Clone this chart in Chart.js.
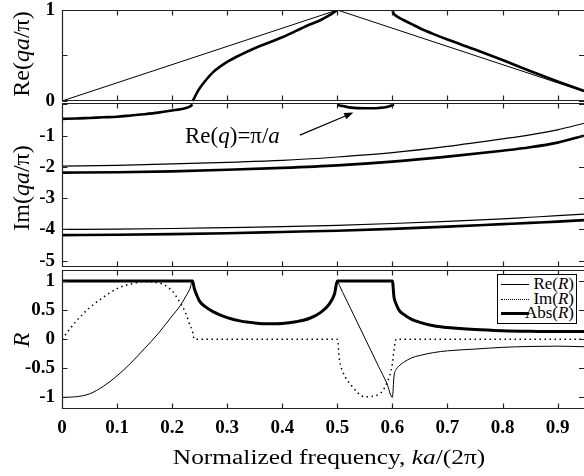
<!DOCTYPE html>
<html>
<head>
<meta charset="utf-8">
<title>Reflection and complex Bloch wavevector</title>
<script src="https://cdn.jsdelivr.net/npm/chart.js@4.4.1/dist/chart.umd.min.js"></script>
<style>
  body { margin: 0; background: #fff; }
  #wrap { position: relative; width: 584px; height: 476px; overflow: hidden;
          font-family: "Liberation Serif", "Times New Roman", serif; color: #000; }
  #chart { position: absolute; left: 0; top: 0; }
  .ytitle { position: absolute; white-space: nowrap; line-height: 1; font-size: 24px;
            transform: translate(-50%, -50%) rotate(-90deg); }
  #xtitle { position: absolute; left: 329px; top: 447px; white-space: nowrap; line-height: 1;
            font-size: 20px; transform: translateX(-50%) scaleX(1.27); }
  #note { position: absolute; left: 185px; top: 124px; white-space: nowrap; line-height: 1; font-size: 23px; }
  #legend { position: absolute; left: 497px; top: 274px; width: 80px; height: 50px; box-sizing: border-box;
            border: 1px solid #000; background: #fff; font-size: 17px; padding-top: 2px; }
  #legend .row { position: relative; height: 14.7px; line-height: 14.7px; text-align: right; padding-right: 2px; }
  #legend .s { position: absolute; left: 3px; top: 7px; width: 28px; border-top: 1px solid #000; }
  #legend .s.dot { border-top: 1.5px dotted #000; }
  #legend .s.bold { border-top: 3px solid #000; top: 6px; }
</style>
</head>
<body>
<div id="wrap">
  <canvas id="chart" width="584" height="476"></canvas>
  <div class="ytitle" style="left:21px;top:54px">Re(<i>qa</i>/π)</div>
  <div class="ytitle" style="left:21px;top:188px">Im(<i>qa</i>/π)</div>
  <div class="ytitle" style="left:21px;top:340px"><i>R</i></div>
  <div id="xtitle">Normalized frequency, <i>ka</i>/(2π)</div>
  <div id="note">Re(<i>q</i>)=π/<i>a</i></div>
  <div id="legend">
    <div class="row"><span class="s"></span>Re(<i>R</i>)</div>
    <div class="row"><span class="s dot"></span>Im(<i>R</i>)</div>
    <div class="row"><span class="s bold"></span>Abs(<i>R</i>)</div>
  </div>
</div>
<script>
// frequency samples ka/(2pi) used by the band / reflection curves
const freq = [0, 0.025, 0.05, 0.075, 0.1, 0.125, 0.15, 0.175, 0.2, 0.215, 0.225, 0.232, 0.237,
  0.24, 0.245, 0.25, 0.26, 0.275, 0.3, 0.325, 0.35, 0.375, 0.4, 0.425, 0.45, 0.47, 0.485, 0.495, 0.5,
  0.504, 0.51, 0.525, 0.55, 0.575, 0.59, 0.6, 0.603, 0.607, 0.612, 0.62, 0.635, 0.65, 0.675, 0.7, 0.75,
  0.8, 0.85, 0.9, 0.948];

// top panel: Re(qa/pi)
const reQ = [null, null, null, null, null, null, null, null, null, null, null, null, 0,
  0.03, 0.09, 0.14, 0.22, 0.32, 0.43, 0.51, 0.58, 0.64, 0.70, 0.77, 0.84, 0.89, 0.94, 0.98, 1,
  null, null, null, null, null, null, 1, 0.955, 0.935, 0.915, 0.89, 0.845, 0.80, 0.735, 0.675, 0.565,
  0.45, 0.33, 0.215, 0.11];
const lightX = [0, 0.5, 0.948];
const lightY = [0, 1, 0.104];

// middle panel: Im(qa/pi)
const imQ = [-0.46, -0.45, -0.43, -0.41, -0.39, -0.35, -0.31, -0.26, -0.19, -0.15, -0.11, -0.07, 0,
  null, null, null, null, null, null, null, null, null, null, null, null, null, null, null, 0,
  -0.03, -0.05, -0.10, -0.12, -0.11, -0.08, -0.02, 0, null, null, null, null, null, null, null, null,
  null, null, null, null];
const evX = [0, 0.1, 0.2, 0.3, 0.4, 0.5, 0.6, 0.7, 0.8, 0.85, 0.9, 0.948];
const ev1Thin = [-1.97, -1.95, -1.90, -1.85, -1.79, -1.68, -1.54, -1.34, -1.10, -0.97, -0.81, -0.60];
const ev1Thick = [-2.18, -2.17, -2.14, -2.09, -2.03, -1.95, -1.83, -1.67, -1.48, -1.37, -1.22, -1.0];
const ev2Thin = [-4.00, -3.99, -3.97, -3.94, -3.91, -3.87, -3.81, -3.74, -3.66, -3.61, -3.56, -3.51];
const ev2Thick = [-4.18, -4.17, -4.15, -4.12, -4.08, -4.04, -3.98, -3.91, -3.83, -3.79, -3.75, -3.70];

// bottom panel: reflection coefficient R
const reR = [-1, -0.99, -0.94, -0.81, -0.63, -0.41, -0.16, 0.10, 0.40, 0.58, 0.74, 0.86, 1,
  0.88, 0.75, 0.65, 0.56, 0.47, 0.37, 0.31, 0.28, 0.265, 0.27, 0.30, 0.36, 0.46, 0.60, 0.78, 1,
  0.92, 0.80, 0.51, 0.02, -0.47, -0.76, -1, -0.63, -0.52, -0.46, -0.40, -0.32, -0.28, -0.23, -0.20, -0.17,
  -0.14, -0.125, -0.12, -0.13];
const imR = [0, 0.30, 0.54, 0.72, 0.87, 0.95, 0.99, 0.97, 0.83, 0.62, 0.44, 0.25, 0.14,
  0, 0, 0, 0, 0, 0, 0, 0, 0, 0, 0, 0, 0, 0, 0, 0,
  -0.36, -0.56, -0.79, -0.99, -0.95, -0.75, -0.42, -0.18, 0, 0, 0, 0, 0, 0, 0, 0,
  0, 0, 0, 0];
const absR = [1, 1, 1, 1, 1, 1, 1, 1, 1, 1, 1, 1, 1,
  0.88, 0.75, 0.65, 0.56, 0.47, 0.37, 0.31, 0.28, 0.265, 0.27, 0.30, 0.36, 0.46, 0.60, 0.78, 1,
  1, 1, 1, 1, 1, 1, 1, 0.72, 0.60, 0.50, 0.43, 0.34, 0.29, 0.23, 0.20, 0.165,
  0.145, 0.135, 0.13, 0.13];

// ticks
const xTicks = [0, 0.1, 0.2, 0.3, 0.4, 0.5, 0.6, 0.7, 0.8, 0.9];
const reQTicks = [0, 0.5, 1];
const imQTicks = [0, -1, -2, -3, -4, -5];
const rTicks = [-1, -0.5, 0, 0.5, 1];

// annotation arrow (data coords on the Im panel)
const arrowFrom = [0.432, -0.98];
const arrowTo = [0.529, -0.26];

// frame edges of each panel, in that panel's units [top, bottom]
const panelEdges = { yRe: [1, 0], yIm: [0.05, -5.2], yR: [1.19, -1.2] };

function pts(xs, ys) {
  return xs.map((x, i) => ({ x: x, y: ys[i] }));
}

const tickFont = { family: 'Liberation Serif', size: 19, weight: 'bold' };

function line(data, yAxisID, width, extra) {
  return Object.assign({
    data: data, yAxisID: yAxisID, borderColor: '#000', borderWidth: width,
    pointRadius: 0, fill: false, cubicInterpolationMode: 'monotone'
  }, extra || {});
}

function yAxis(weight, stackWeight, min, max, ticks, hide) {
  return {
    type: 'linear', position: 'left', stack: 'panels', weight: weight, stackWeight: stackWeight,
    min: min, max: max,
    grid: { display: false, drawTicks: false },
    border: { display: false },
    afterBuildTicks: (s) => { s.ticks = ticks.map(v => ({ value: v })); },
    afterFit: (s) => { s.width = 62; s.paddingTop = 0; s.paddingBottom = 0; },
    ticks: {
      autoSkip: false, padding: 7, color: '#000', font: tickFont,
      callback: (v) => (v === hide ? '' : String(v))
    }
  };
}

const panelFrames = {
  id: 'panelFrames',
  afterDatasetsDraw(chart) {
    const ctx = chart.ctx;
    const x = chart.scales.x;
    const L = chart.chartArea.left + 0.5;
    const R = chart.chartArea.right;
    ctx.save();
    ctx.strokeStyle = '#222';
    ctx.lineWidth = 1.2;
    Object.keys(panelEdges).forEach(id => {
      const s = chart.scales[id];
      const top = Math.round(s.getPixelForValue(panelEdges[id][0])) + 0.5;
      const bot = Math.round(s.getPixelForValue(panelEdges[id][1])) - 0.5;
      ctx.beginPath();
      ctx.moveTo(R, top); ctx.lineTo(L, top); ctx.lineTo(L, bot); ctx.lineTo(R, bot);
      xTicks.forEach(v => {
        const px = Math.round(x.getPixelForValue(v)) + 0.5;
        ctx.moveTo(px, top); ctx.lineTo(px, top + 5);
        ctx.moveTo(px, bot); ctx.lineTo(px, bot - 5);
      });
      s.ticks.forEach(t => {
        const py = Math.round(s.getPixelForValue(t.value)) + 0.5;
        ctx.moveTo(L, py); ctx.lineTo(L + 5, py);
        ctx.moveTo(R, py); ctx.lineTo(R - 5, py);
      });
      ctx.stroke();
    });

    // arrow pointing at the Re(q)=pi/a segment
    const yIm = chart.scales.yIm;
    const x0 = x.getPixelForValue(arrowFrom[0]), y0 = yIm.getPixelForValue(arrowFrom[1]);
    const x1 = x.getPixelForValue(arrowTo[0]), y1 = yIm.getPixelForValue(arrowTo[1]);
    const a = Math.atan2(y1 - y0, x1 - x0);
    ctx.strokeStyle = '#000';
    ctx.fillStyle = '#000';
    ctx.lineWidth = 1.2;
    ctx.beginPath();
    ctx.moveTo(x0, y0);
    ctx.lineTo(x1 - 6 * Math.cos(a), y1 - 6 * Math.sin(a));
    ctx.stroke();
    ctx.beginPath();
    ctx.moveTo(x1, y1);
    ctx.lineTo(x1 - 9 * Math.cos(a) + 3.5 * Math.sin(a), y1 - 9 * Math.sin(a) - 3.5 * Math.cos(a));
    ctx.lineTo(x1 - 9 * Math.cos(a) - 3.5 * Math.sin(a), y1 - 9 * Math.sin(a) + 3.5 * Math.cos(a));
    ctx.closePath();
    ctx.fill();
    ctx.restore();
  }
};

new Chart(document.getElementById('chart'), {
  type: 'line',
  data: {
    datasets: [
      line(pts(lightX, lightY), 'yRe', 1, { cubicInterpolationMode: 'default', tension: 0 }),
      line(pts(freq, reQ), 'yRe', 2.6),
      line(pts(evX, ev1Thin), 'yIm', 1.2),
      line(pts(evX, ev2Thin), 'yIm', 1.2),
      line(pts(freq, imQ), 'yIm', 2.6),
      line(pts(evX, ev1Thick), 'yIm', 2.6),
      line(pts(evX, ev2Thick), 'yIm', 2.6),
      line(pts(freq, reR), 'yR', 1, { label: 'Re(R)' }),
      line(pts(freq, imR), 'yR', 1.5, { label: 'Im(R)', borderDash: [1.5, 3.5] }),
      line(pts(freq, absR), 'yR', 3, { label: 'Abs(R)' })
    ]
  },
  options: {
    responsive: false,
    animation: false,
    layout: { padding: { top: 10, right: 0, bottom: 0, left: 0 } },
    plugins: { legend: { display: false }, tooltip: { enabled: false } },
    scales: {
      x: {
        type: 'linear', position: 'bottom', min: 0, max: 0.948,
        grid: { display: false, drawTicks: false },
        border: { display: false },
        afterBuildTicks: (s) => { s.ticks = xTicks.map(v => ({ value: v })); },
        afterFit: (s) => { s.height = 67; s.paddingLeft = 0; s.paddingRight = 0; },
        ticks: { autoSkip: false, maxRotation: 0, padding: 8, color: '#000', font: tickFont,
                 callback: (v) => String(v) }
      },
      yRe: yAxis(3, 92, -0.011, 1, reQTicks, 0.5),
      yIm: yAxis(2, 166.5, -5.25, 0.08, imQTicks, 0),
      yR: yAxis(1, 140.5, -1.2, 1.215, rTicks, null)
    }
  },
  plugins: [panelFrames]
});
</script>
</body>
</html>
